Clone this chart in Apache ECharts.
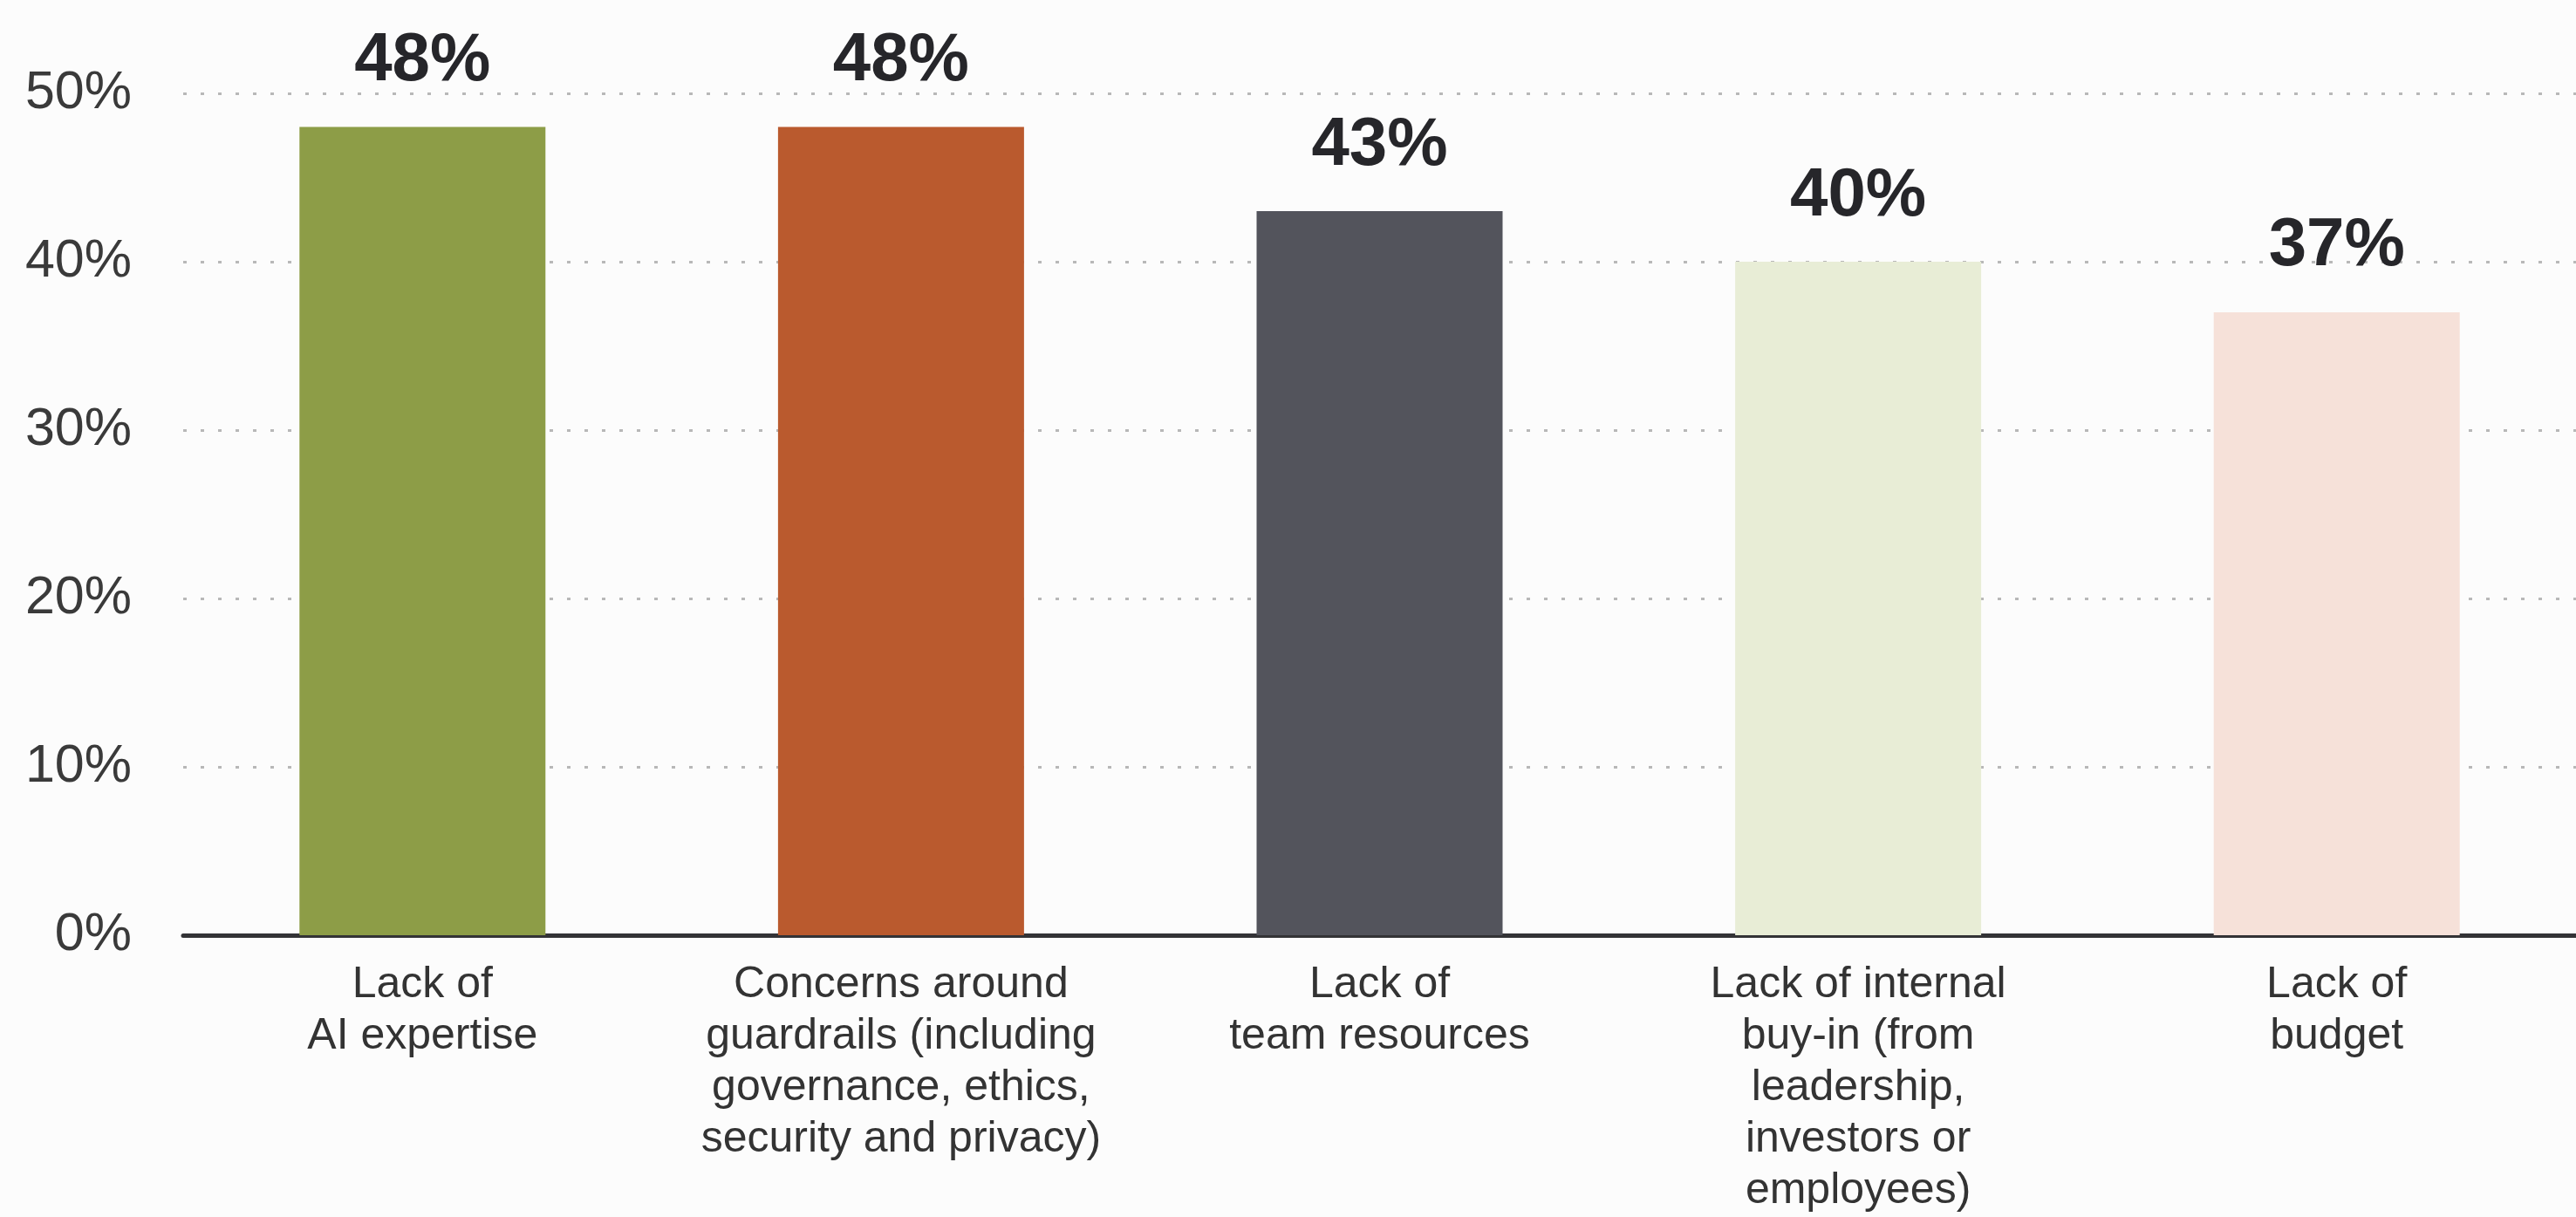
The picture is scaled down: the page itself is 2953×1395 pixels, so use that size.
<!DOCTYPE html>
<html>
<head>
<meta charset="utf-8">
<script src="https://cdn.jsdelivr.net/npm/echarts@6/dist/echarts.min.js"></script>
<style>
  html, body { margin: 0; padding: 0; background: #fcfcfc; overflow: hidden; }
  #chart { width: 2953px; height: 1395px; }
</style>
</head>
<body>
<div id="chart"></div>
<script>
// Top barriers cited, share of respondents
const categories = [
  'Lack of\nAI expertise',
  'Concerns around\nguardrails (including\ngovernance, ethics,\nsecurity and privacy)',
  'Lack of\nteam resources',
  'Lack of internal\nbuy-in (from\nleadership,\ninvestors or\nemployees)',
  'Lack of\nbudget'
];
const values = [48, 48, 43, 40, 37];
const barColors = ['#8d9d47', '#ba5a2e', '#53545c', '#e8edd6', '#f6e1d9'];
const yTicks = [0, 10, 20, 30, 40, 50];

const chart = echarts.init(document.getElementById('chart'));

chart.setOption({
  backgroundColor: '#fcfcfc',
  animation: false,
  // plot area runs past the right edge so the last band is clipped
  grid: { left: 210, top: 107, width: 2764, height: 980, containLabel: false },
  xAxis: {
    type: 'category',
    data: categories,
    axisLine: { show: true, lineStyle: { color: '#333336', width: 5 } },
    axisTick: { show: false },
    axisLabel: {
      interval: 0,
      margin: 28,
      color: '#333333',
      fontFamily: 'Liberation Sans, Arial, sans-serif',
      fontSize: 50,
      lineHeight: 59,
      align: 'center'
    }
  },
  yAxis: {
    type: 'value',
    min: yTicks[0],
    max: yTicks[yTicks.length - 1],
    interval: 10,
    axisLine: { show: false },
    axisTick: { show: false },
    splitLine: {
      show: true,
      lineStyle: { color: '#b8b8b8', width: 3, type: [4, 16] }
    },
    axisLabel: {
      margin: 59,
      color: '#3a3a3a',
      fontFamily: 'Liberation Sans, Arial, sans-serif',
      fontSize: 61,
      padding: [0, 0, 18, 0],
      formatter: function (v) { return v + '%'; }
    }
  },
  series: [{
    type: 'bar',
    barWidth: 282,
    data: values.map(function (v, i) {
      return { value: v, itemStyle: { color: barColors[i] } };
    }),
    label: {
      show: true,
      position: 'top',
      distance: 36,
      color: '#26262a',
      fontFamily: 'Liberation Sans, Arial, sans-serif',
      fontWeight: 'bold',
      fontSize: 78,
      formatter: function (p) { return p.value + '%'; }
    }
  }]
});
</script>
</body>
</html>
